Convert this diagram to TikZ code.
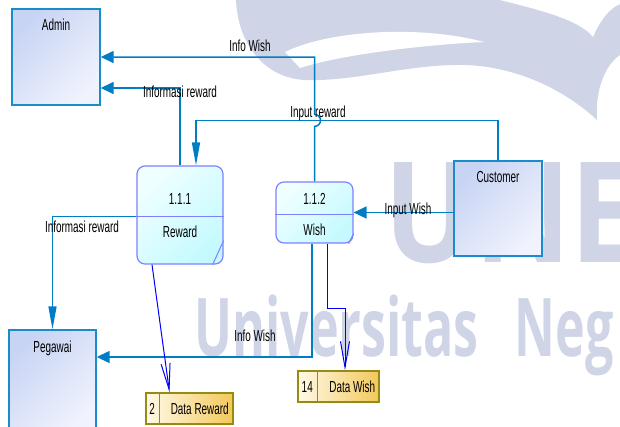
\documentclass[tikz,border=0pt]{standalone}
\usepackage{fontspec}
\setmainfont{Liberation Sans}[FakeStretch=0.62]
\newfontfamily\wmfont{Open Sans}[FakeStretch=0.62]
\newfontfamily\logofont{Open Sans}[FakeStretch=0.85]
\usetikzlibrary{arrows.meta,positioning,calc}
\definecolor{EntLine}{RGB}{26,139,203}
\definecolor{EntTop}{RGB}{200,212,244}
\definecolor{EntBot}{RGB}{240,243,253}
\definecolor{ProcLine}{RGB}{128,128,255}
\definecolor{ProcTop}{RGB}{240,255,255}
\definecolor{ProcBot}{RGB}{196,250,255}
\definecolor{StoreLine}{RGB}{150,140,20}
\definecolor{StoreA}{RGB}{255,250,232}
\definecolor{StoreB}{RGB}{242,200,90}
\definecolor{FlowBlue}{RGB}{0,125,195}
\definecolor{WaterGray}{RGB}{207,213,231}
\tikzset{
  entity/.style={draw=EntLine,line width=1.4pt,top color=EntTop,bottom color=EntBot,shading angle=45,inner sep=0pt},
  process/.style={draw=ProcLine,line width=1.2pt,rounded corners=8pt,top color=ProcTop,bottom color=ProcBot,shading angle=45,inner sep=0pt},
  store/.style={draw=StoreLine,line width=1.5pt,left color=StoreA,right color=StoreB,inner sep=0pt},
  txt/.style={font=\fontsize{16}{18}\selectfont,inner sep=0pt},
  flow/.style={draw=FlowBlue,line width=1.5pt},
  hflow/.style={flow,-{Triangle[length=13pt,width=12pt]}},
  vflow/.style={flow,-{Triangle[length=23pt,width=8pt]}},
  dataflow/.style={draw=blue,line width=1pt,-{Straight Barb[length=26pt,width=9pt]}},
  watermark/.style={text=WaterGray,inner sep=0pt}
}
\begin{document}
\begin{tikzpicture}[x=1pt,y=-1pt]
\useasboundingbox (0,0) rectangle (620,426);

\fill[WaterGray] (236,0) .. controls (238,45) and (265,78) .. (305,80) .. controls (360,82) and (420,60) .. (480,66) .. controls (530,72) and (570,95) .. (597,120) .. controls (595,90) and (605,65) .. (620,55) -- (620,0) -- cycle;
\fill[white] (285,52) .. controls (330,30) and (420,25) .. (484,42) .. controls (420,45) and (340,55) .. (300,68) -- cycle;
\fill[white] (500,0) .. controls (540,10) and (580,20) .. (593,37) .. controls (600,20) and (610,8) .. (620,4) -- (620,0) -- cycle;
\node[watermark,anchor=base west,font=\logofont\bfseries\fontsize{140}{140}\selectfont] (wmlogo) at (384,262) {UNE};
\node[watermark,anchor=base west,font=\wmfont\bfseries\fontsize{81}{81}\selectfont] (wmtext) at (194,356) {Universitas\hspace{36pt}Neg};

\node[entity,minimum width=88pt,minimum height=96pt] (admin) at (56,57) {};
\node[entity,minimum width=88pt,minimum height=95pt] (customer) at (498,208.5) {};
\node[entity,minimum width=87pt,minimum height=102pt] (pegawai) at (52.5,381) {};
\node[txt,below=10pt of admin.north] (admintext) {Admin};
\node[txt,below=11pt of customer.north] (customertext) {Customer};
\node[txt,below=11pt of pegawai.north] (pegawaitext) {Pegawai};

\node[process,minimum width=86pt,minimum height=98pt] (reward) at (180,215) {};
\node[process,minimum width=77pt,minimum height=61pt] (wish) at (314.5,212.5) {};
\draw[ProcLine,line width=1.2pt] ([yshift=-51pt]reward.north west) -- ([yshift=-51pt]reward.north east);
\draw[ProcLine,line width=1.2pt] ([yshift=-33pt]wish.north west) -- ([yshift=-33pt]wish.north east);
\draw[ProcLine,line width=1pt] ([yshift=24pt]reward.south east) -- ([xshift=-11pt]reward.south east);
\draw[ProcLine,line width=1pt] ([yshift=10pt]wish.south east) -- ([xshift=-5pt]wish.south east);
\node[txt] (rewardid) at ([yshift=-34pt]reward.north) {1.1.1};
\node[txt] (rewardname) at ([yshift=-66pt]reward.north) {Reward};
\node[txt] (wishid) at ([yshift=-18pt]wish.north) {1.1.2};
\node[txt] (wishname) at ([yshift=-48pt]wish.north) {Wish};

\node[store,minimum width=87pt,minimum height=31pt] (drstore) at (189.5,408.5) {};
\node[store,minimum width=81pt,minimum height=31pt] (dwstore) at (338.5,386.5) {};
\draw[StoreLine,line width=1.5pt] ([xshift=14pt]drstore.north west) -- ([xshift=14pt]drstore.south west);
\draw[StoreLine,line width=1.5pt] ([xshift=20pt]dwstore.north west) -- ([xshift=20pt]dwstore.south west);
\node[txt] (drid) at ([xshift=7pt]drstore.west) {2};
\node[txt] (drname) at ([xshift=54.5pt]drstore.west) {Data Reward};
\node[txt] (dwid) at ([xshift=10pt]dwstore.west) {14};
\node[txt] (dwname) at ([xshift=55pt]dwstore.west) {Data Wish};

\draw[hflow] (wish.north) -- ++(0,-55) arc[start angle=90,end angle=-90,radius=6] |- (admin.east);
\draw[hflow] (reward.north) |- ([yshift=-31pt]admin.east);
\draw[vflow] (customer.north) -- ++(0,-40) -| ([xshift=16pt]reward.north);
\draw[hflow] (customer.west |- wish.east) -- (wish.east);
\draw[vflow] ([yshift=-51pt]reward.north west) -| (pegawai.north);
\draw[hflow] ([xshift=-2.5pt]wish.south) |- ([yshift=24pt]pegawai.east);
\draw[dataflow] ([xshift=-28pt]reward.south) -- ([xshift=-20pt]drstore.north);
\draw[dataflow] ([xshift=12.5pt]wish.south) -- ++(0,65) -| ([xshift=6.5pt]dwstore.north);

\node[txt] (lblinfowisha) at (250,46) {Info Wish};
\node[txt] (lblinforewa) at (180,92) {Informasi reward};
\node[txt] (lblinputrew) at (318,113) {Input reward};
\node[txt] (lblinputwish) at (408,210) {Input Wish};
\node[txt] (lblinforewp) at (82,227) {Informasi reward};
\node[txt] (lblinfowishp) at (255,336) {Info Wish};
\end{tikzpicture}
\end{document}
